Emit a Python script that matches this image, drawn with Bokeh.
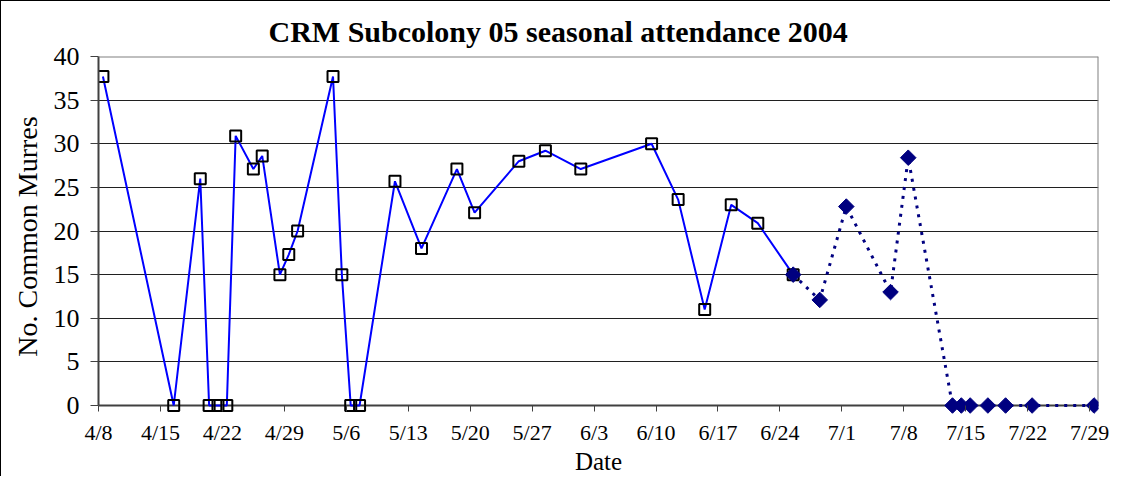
import math
import pandas as pd
from bokeh.plotting import figure
from bokeh.models import Range1d, FixedTicker, Span
from bokeh.embed import file_html
from bokeh.resources import INLINE

# ---- data ----
start_date = "2004/4/8"
tick_labels = ["4/8", "4/15", "4/22", "4/29", "5/6", "5/13", "5/20", "5/27",
               "6/3", "6/10", "6/17", "6/24", "7/1", "7/8", "7/15", "7/22", "7/29"]
y_ticks = [0, 5, 10, 15, 20, 25, 30, 35, 40]

dates_observed = ["4/8", "4/16", "4/19", "4/20", "4/21", "4/22", "4/23", "4/25", "4/26",
                  "4/28", "4/29", "4/30", "5/4", "5/5", "5/6", "5/7", "5/11", "5/14",
                  "5/18", "5/20", "5/25", "5/28", "6/1", "6/9", "6/12", "6/15", "6/18",
                  "6/21", "6/25"]
counts_observed = [37.7, 0, 26, 0, 0, 0, 30.9, 27.1, 28.6, 15, 17.3, 20, 37.7, 15, 0, 0,
                   25.7, 18, 27.1, 22.1, 28, 29.2, 27.1, 30, 23.6, 11, 23, 20.9, 15]

dates_late = ["6/25", "6/28", "7/1", "7/6", "7/8", "7/13", "7/14", "7/15", "7/17",
              "7/19", "7/22", "7/29"]
counts_late = [15, 12.1, 22.8, 13, 28.4, 0, 0, 0, 0, 0, 0, 0]

t0 = pd.Timestamp(start_date)


def day_pos(labels):
    # centre of each day, in days since the first date
    return [(pd.Timestamp("2004/" + s) - t0).days + 0.5 for s in labels]


tick_pos = [(pd.Timestamp("2004/" + s) - t0).days for s in tick_labels]
x_end = tick_pos[-1] + 1
y_top = y_ticks[-1]
y_bottom = -1.26   # a little room below zero so the markers at 0 are not cut

FONT = "Liberation Serif"

p = figure(width=1110, height=476, output_backend="svg", toolbar_location=None,
           x_range=Range1d(0, x_end), y_range=Range1d(y_bottom, y_top),
           min_border_left=97, min_border_right=13, min_border_top=55,
           min_border_bottom=61,
           title="CRM Subcolony 05 seasonal attendance 2004")

p.styles = {"border-left": "1px solid black", "border-top": "1px solid black"}

p.title.text_font = FONT
p.title.text_font_size = "30px"
p.title.text_font_style = "bold"
p.title.align = "left"
p.title.offset = 170
p.title.standoff = 17
p.title.text_color = "black"

p.outline_line_color = None
p.background_fill_color = "white"
p.border_fill_color = "white"

# axes
p.xaxis.ticker = FixedTicker(ticks=tick_pos)
p.xaxis.major_label_overrides = {t: lab for t, lab in zip(tick_pos, tick_labels)}
p.xaxis.axis_label = "Date"
p.yaxis.ticker = FixedTicker(ticks=y_ticks)
p.yaxis.bounds = (0, y_top)
p.yaxis.axis_label = "No. Common Murres"

for ax in (p.xaxis[0], p.yaxis[0]):
    ax.axis_line_color = "#404040"
    ax.axis_line_width = 2
    ax.major_tick_line_color = "#404040"
    ax.major_tick_line_width = 1
    ax.minor_tick_line_color = None
    ax.major_label_text_font = FONT
    ax.major_label_text_color = "black"
    ax.axis_label_text_font = FONT
    ax.axis_label_text_font_style = "normal"
    ax.axis_label_text_color = "black"

# x axis: its ticks hang from the zero line, which sits just above the frame bottom
p.xaxis.axis_line_color = None
p.xaxis.major_tick_in = 11
p.xaxis.major_tick_out = -5
p.xaxis.major_label_standoff = 3
p.xaxis.major_label_text_font_size = "22px"
p.xaxis.axis_label_text_font_size = "25px"
p.xaxis.axis_label_standoff = 0

p.yaxis.major_tick_in = 0
p.yaxis.major_tick_out = 8
p.yaxis.major_label_standoff = 11
p.yaxis.major_label_text_font_size = "26px"
p.yaxis.axis_label_text_font_size = "28px"
p.yaxis.axis_label_standoff = 8

p.xgrid.grid_line_color = None
p.ygrid.grid_line_color = "#202020"
p.ygrid.grid_line_width = 1

# zero line (the visible x axis), and the grey plot-area border at top and right
p.add_layout(Span(location=0, dimension="width", line_color="#404040", line_width=2,
                  level="underlay"))
p.add_layout(Span(location=y_top, dimension="width", line_color="#808080", line_width=2))
p.segment(x0=[x_end], y0=[0], x1=[x_end], y1=[y_top], line_color="#808080", line_width=2)

# series
x1 = day_pos(dates_observed)
x2 = day_pos(dates_late)

p.line(x1, counts_observed, line_color="#0000FF", line_width=2)
p.scatter(x1, counts_observed, marker="square", size=11, fill_color=None,
          line_color="black", line_width=2)

p.line(x2, counts_late, line_color="#000080", line_width=3, line_dash="3 6")
p.scatter(x2, counts_late, marker="square", angle=math.pi / 4, size=11,
          fill_color="#000080", line_color="#000080", line_width=1)

open("out.html", "w").write(file_html(p, INLINE))
